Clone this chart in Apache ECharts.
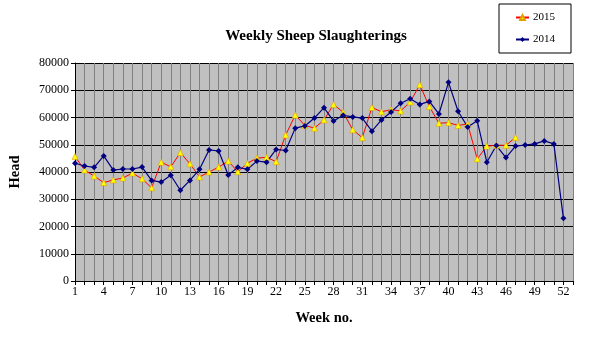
<!DOCTYPE html>
<html><head><meta charset="utf-8">
<script src="https://cdn.jsdelivr.net/npm/echarts@6/dist/echarts.min.js"></script>
<style>html,body{margin:0;padding:0;background:#fff}#c{width:591px;height:363px}</style>
</head><body><div id="c"></div>
<script>
var weeks = [];
for (var i = 1; i <= 53; i++) weeks.push(String(i));
var y2015 = [45700,40700,38500,36100,37100,37800,39600,37500,34200,43600,41900,47100,43000,38200,40000,41800,44000,40100,43200,45100,45400,43800,53600,60900,57100,56100,59100,64800,61900,55500,52600,63700,62100,62900,62400,65700,72000,64000,57900,58100,57100,57600,44800,49500,49800,49800,52700];
var y2014 = [43200,42200,41700,45900,40700,41100,41100,41800,36900,36300,38800,33300,36900,41000,48100,47700,38900,41700,41000,44000,43600,48300,47900,56100,56900,59800,63600,58700,60800,60200,59800,55000,59100,62000,65200,66900,64800,65900,61300,72900,62300,56500,58800,43600,49700,45300,49500,49900,50300,51400,50300,23000];
var yTicks = [0,10000,20000,30000,40000,50000,60000,70000,80000];

var serif = "'Liberation Serif','Times New Roman',serif";
var chart = echarts.init(document.getElementById('c'), null, {renderer:'canvas'});
chart.setOption({
  animation:false,
  backgroundColor:'#fff',
  title:{text:'Weekly Sheep Slaughterings', left:311, top:24, textAlign:'center',
    textStyle:{fontFamily:serif, fontWeight:'bold', fontSize:15, color:'#000'}},
  legend:{orient:'vertical', left:499, top:4,
    padding:[8,16,8,16], itemGap:11, itemWidth:13, itemHeight:6,
    borderColor:'#000', borderWidth:1, backgroundColor:'#fff',
    textStyle:{fontFamily:serif, fontSize:11, color:'#000', padding:[0,0,0,-1]},
    data:['2015','2014']},
  grid:{left:75, right:18, top:63, bottom:82, containLabel:false,
    show:true, backgroundColor:'#C0C0C0', borderWidth:0},
  xAxis:{type:'category', data:weeks, boundaryGap:false,
    name:'Week no.', nameLocation:'middle', nameGap:30,
    nameTextStyle:{fontFamily:serif, fontWeight:'bold', fontSize:14.5, color:'#000'},
    axisLine:{lineStyle:{color:'#000', width:1}},
    axisTick:{show:true, interval:0, length:4, inside:false, lineStyle:{color:'#000'}},
    axisLabel:{interval:2, fontFamily:serif, fontSize:12, color:'#000', margin:5},
    splitLine:{show:true, interval:0, lineStyle:{color:'#808080', width:1}}},
  yAxis:{type:'value', min:0, max:80000, interval:10000,
    name:'Head', nameLocation:'middle', nameGap:52, nameRotate:90,
    nameTextStyle:{fontFamily:serif, fontWeight:'bold', fontSize:14.5, color:'#000'},
    axisLine:{show:true, lineStyle:{color:'#000', width:1}},
    axisTick:{show:true, length:4, lineStyle:{color:'#000'}},
    axisLabel:{fontFamily:serif, fontSize:12, color:'#000', margin:6,
      formatter:function(v){return yTicks.indexOf(v) >= 0 ? String(v) : '';}},
    splitLine:{show:true, lineStyle:{color:'#000', width:1}}},
  series:[
    {name:'2015', type:'line', data:y2015, symbol:'triangle', symbolSize:6,
      lineStyle:{color:'#FF0000', width:1},
      itemStyle:{color:'#FFFF00', borderColor:'#E0A000', borderWidth:0.6}},
    {name:'2014', type:'line', data:y2014, symbol:'diamond', symbolSize:6,
      lineStyle:{color:'#000080', width:1.2},
      itemStyle:{color:'#000080', borderWidth:0}}
  ]
});
</script></body></html>
